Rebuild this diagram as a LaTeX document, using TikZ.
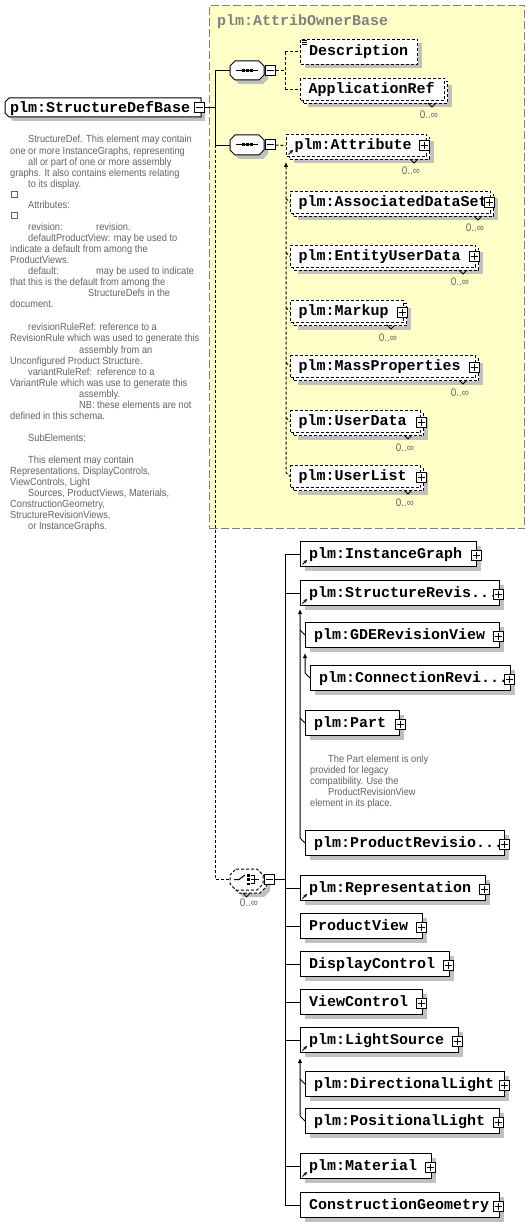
\documentclass[tikz,border=0pt]{standalone}
\usepackage{fontspec}
\usetikzlibrary{shadows,arrows.meta}
\newfontfamily\monof{Liberation Mono}
\newfontfamily\annf{Liberation Sans}[FakeStretch=0.9]
\definecolor{shadowc}{RGB}{192,192,192}
\definecolor{yell}{RGB}{255,255,200}
\definecolor{framegray}{RGB}{128,128,128}
\definecolor{anncol}{RGB}{100,100,100}
\tikzset{
  shad/.style={drop shadow={shadow xshift=4pt, shadow yshift=-4pt, fill=shadowc, opacity=1}},
  ebox/.style={draw, fill=white, line width=1pt, inner sep=0pt, anchor=north west, minimum height=25pt},
  dsh/.style={dash pattern=on 3pt off 2pt},
  etext/.style={font=\monof\bfseries\fontsize{15}{15}\selectfont, anchor=base west, inner sep=0pt},
  ann/.style={font=\annf\fontsize{10.3}{11}\selectfont, text=anncol, anchor=base west, inner sep=0pt},
  lim/.style={font=\annf\fontsize{11}{11}\selectfont, text=anncol, anchor=base, inner sep=0pt},
  pm/.style={draw, fill=white, line width=1pt, minimum size=10pt, inner sep=0pt},
  conn/.style={line width=1pt},
  dconn/.style={line width=1pt, dsh},
  inh/.style={line width=1pt, {Latex[length=5pt,width=4.5pt]}-},
}
% single element box
\newcommand\eS[6]{%
  \node[ebox,shad,#6,minimum width={#4-#2}] (#1) at (#2,#3) {};
  \node[etext] (#1t) at (#2+9,#3+17) {#5};}
% multi-occurrence (0..inf) optional element box
\newcommand\eM[5]{%
  \node[ebox,shad,dsh,minimum width={#4-#2},minimum height=22pt] (#1b) at (#2+3,#3+3) {};
  \node[ebox,dsh,minimum width={#4-#2},minimum height=22pt] (#1) at (#2,#3) {};
  \node[etext] (#1t) at (#2+8.5,#3+15.5) {#5};
  \draw[line width=0.8pt] (#4-16,#3+25) -- (#4-12,#3+29) -- (#4-8,#3+25);
  \node[lim] (#1n) at (#4-15,#3+41) {0..∞};}
\newcommand\pl[3]{%
  \node[pm] (#1) at (#2,#3) {};
  \draw[line width=1pt] (#1.center) +(-3.5,0) -- +(3.5,0) (#1.center) +(0,-3.5) -- +(0,3.5);}
\newcommand\mn[3]{%
  \node[pm] (#1) at (#2,#3) {};
  \draw[line width=1pt] (#1.center) +(-3.5,0) -- +(3.5,0);}
\newcommand\chp[5]{(#1+#5,#2) -- (#3-#5,#2) -- (#3,#2+#5) -- (#3,#4-#5) -- (#3-#5,#4) -- (#1+#5,#4) -- (#1,#4-#5) -- (#1,#2+#5) -- cycle}
\newcommand\comp[5]{%
  \fill[shadowc,shift={(4,4)}] \chp{#2}{#3}{#4}{#5}{5};
  \draw[fill=white,line width=1pt] \chp{#2}{#3}{#4}{#5}{5};
  \node[inner sep=0pt,minimum width={#4-#2},minimum height={#5-#3},anchor=north west] (#1) at (#2,#3) {};}
\newcommand\seqicon[1]{%
  \draw[line width=1pt] (236,#1) -- (258,#1);
  \fill (242,#1-1.5) rectangle ++(2.5,3);
  \fill (246,#1-1.5) rectangle ++(2.5,3);
  \fill (250,#1-1.5) rectangle ++(2.5,3);}
\newcommand\refic[1]{\draw[line width=1pt,-{Stealth[length=3.5pt,width=3.5pt]}] ([xshift=2.5pt,yshift=2.5pt]#1.south west) -- ++(4.5,-4.5);}
\newcommand\an[4]{\node[ann] (#1) at (#2,#3+4) {#4};}
\begin{document}
\begin{tikzpicture}[x=1pt,y=-1pt]
\fill[white] (0,0) rectangle (530,1222);
\useasboundingbox (0,0) rectangle (530,1222);

% ---------- group (AttribOwnerBase) ----------
\node[draw=framegray, fill=yell, line width=1pt, dash pattern=on 8pt off 3pt, inner sep=0pt,
      anchor=north west, minimum width=315pt, minimum height=523pt] (grp) at (209,5) {};
\node[etext, text=framegray] (grpt) at (217,26) {plm:AttribOwnerBase};

% ---------- root ----------
\fill[shadowc, shift={(4,4)}] (9,98) -- (201,98) -- (201,117) -- (9,117) -- (5,113) -- (5,102) -- cycle;
\draw[fill=white, line width=1pt] (9,98) -- (201,98) -- (201,117) -- (9,117) -- (5,113) -- (5,102) -- cycle;
\node[inner sep=0pt, minimum width=196pt, minimum height=19pt, anchor=north west] (root) at (5,98) {};
\node[etext] (roott) at (10,112.5) {plm:StructureDefBase};
\mn{rm}{199}{108}

% ---------- compositors ----------
\comp{seq1}{230}{61}{264}{80}
\seqicon{70.5}
\mn{seq1m}{270}{70.5}
\comp{seq2}{230}{135}{264}{155}
\seqicon{145}
\mn{seq2m}{270}{145}

% choice compositor (0..inf)
\fill[shadowc,shift={(7,7)}] \chp{230}{869}{263}{890}{6};
\draw[fill=white,dsh,line width=1pt,shift={(3,3)}] \chp{230}{869}{263}{890}{6};
\draw[fill=white,dsh,line width=1pt] \chp{230}{869}{263}{890}{6};
\node[inner sep=0pt,minimum width=33pt,minimum height=21pt,anchor=north west] (choice) at (230,869) {};
\draw[line width=1pt] (234,879.5) -- (239,879.5) -- (245,875);
\fill (247,874) rectangle ++(2.5,2.5);
\fill (247,878.3) rectangle ++(2.5,2.5);
\fill (247,882.6) rectangle ++(2.5,2.5);
\draw[line width=1pt] (250.5,875.2) -- (254,875.2) -- (254,883.8) -- (250.5,883.8) (250.5,879.5) -- (259,879.5);
\draw[line width=0.8pt] (243,893) -- (246.5,897) -- (250,893);
\node[lim] (choicen) at (249,906) {0..∞};
\mn{chm}{269.5}{879.5}

% ---------- group contents ----------
\eS{desc}{300}{39}{417}{Description}{dsh}
\draw[line width=0.7pt] (302,40.5) -- (307,40.5) (302,42.5) -- (307,42.5) (302,44.5) -- (307,44.5);
\eM{app}{300}{78}{444}{ApplicationRef}
\eM{attr}{286}{134}{426}{plm:Attribute}
\pl{attrp}{424}{146}
\refic{attr}
\eM{ads}{290}{191}{490}{plm:AssociatedDataSet}
\pl{adsp}{489}{203}
\eM{eud}{290}{245}{475}{plm:EntityUserData}
\pl{eudp}{474}{257}
\eM{mk}{290}{300}{403}{plm:Markup}
\pl{mkp}{402}{312}
\eM{mp}{290}{355}{475}{plm:MassProperties}
\pl{mpp}{474}{367}
\eM{ud}{290}{410}{420}{plm:UserData}
\pl{udp}{421}{422}
\eM{ul}{290}{465}{420}{plm:UserList}
\pl{ulp}{421}{477}

% ---------- choice contents ----------
\eS{ig}{300}{541}{476}{plm:InstanceGraph}{}
\pl{igp}{476}{555}
\refic{ig}
\eS{srv}{300}{580}{499}{plm:StructureRevis...}{}
\pl{srvp}{498}{594}
\refic{srv}
\eS{gde}{305}{622}{499}{plm:GDERevisionView}{}
\pl{gdep}{498}{636}
\eS{crv}{310}{665}{510}{plm:ConnectionRevi...}{}
\pl{crvp}{509}{679}
\eS{part}{305}{710}{399}{plm:Part}{}
\pl{partp}{400}{724}
\eS{prv}{305}{830}{504}{plm:ProductRevisio...}{}
\pl{prvp}{504}{844}
\eS{rep}{300}{875}{485}{plm:Representation}{}
\pl{repp}{484}{889}
\refic{rep}
\eS{pv}{300}{913}{422}{ProductView}{}
\pl{pvp}{421}{927}
\eS{dc}{300}{951}{449}{DisplayControl}{}
\pl{dcp}{448}{965}
\eS{vc}{300}{989}{422}{ViewControl}{}
\pl{vcp}{421}{1003}
\eS{ls}{300}{1027}{458}{plm:LightSource}{}
\pl{lsp}{457}{1041}
\refic{ls}
\eS{dl}{305}{1071}{504}{plm:DirectionalLight}{}
\pl{dlp}{504}{1085}
\eS{pl}{305}{1108}{499}{plm:PositionalLight}{}
\pl{plp}{498}{1122}
\eS{mat}{300}{1153}{431}{plm:Material}{}
\pl{matp}{430}{1167}
\refic{mat}
\eS{cg}{300}{1192}{499}{ConstructionGeometry}{}
\pl{cgp}{498}{1206}

% ---------- connectors ----------
\coordinate (trunk) at (215,0);
\coordinate (b1) at (285,0);
\coordinate (b2) at (285,0);
\draw[conn] (rm.east) -- (rm.east -| trunk);
\draw[conn] (seq1.west -| trunk) -- (seq2.west -| trunk);
\draw[conn] (seq1.west -| trunk) -- (seq1.west);
\draw[conn] (seq2.west -| trunk) -- (seq2.west);
\draw[dconn] (seq2.west -| trunk) |- (choice.west);

\draw[dconn] (seq1m.east) -- (seq1m.east -| b1);
\draw[dconn] (desc.west -| b1) -- (app.west -| b1);
\draw[dconn] (desc.west -| b1) -- (desc.west);
\draw[dconn] (app.west -| b1) -- (app.west);
\draw[dconn] (seq2m.east) -- (attr.west);

\draw[dconn,{Latex[length=5pt,width=4.5pt]}-] ([yshift=-5pt]attr.south west) -- ([xshift=-4pt,yshift=4pt]ul.west) -- (ul.west);
\foreach \n in {ads,eud,mk,mp,ud}{\draw[dconn] ([xshift=-4pt,yshift=4pt]\n.west) -- (\n.west);}

\draw[conn] (chm.east) -- (chm.east -| b2);
\draw[conn] (ig.west -| b2) -- (cg.west -| b2);
\foreach \n in {ig,srv,rep,pv,dc,vc,ls,mat,cg}{\draw[conn] (\n.west -| b2) -- (\n.west);}

\draw[inh] ([yshift=-3pt]srv.south west) -- ([xshift=-5pt,yshift=5pt]prv.west) -- (prv.west);
\foreach \n in {gde,part}{\draw[conn] ([xshift=-5pt,yshift=5pt]\n.west) -- (\n.west);}
\draw[inh] ([yshift=-5pt]gde.south west) -- ([xshift=-5pt,yshift=5pt]crv.west) -- (crv.west);
\draw[inh] ([yshift=-5pt]ls.south west) -- ([xshift=-5pt,yshift=5pt]pl.west) -- (pl.west);
\draw[conn] ([xshift=-5pt,yshift=5pt]dl.west) -- (dl.west);

% ---------- annotations ----------
\an{a1}{28}{139}{StructureDef. This element may contain}
\an{a2}{10}{151}{one or more InstanceGraphs, representing}
\an{a3}{28}{162}{all or part of one or more assembly}
\an{a4}{10}{173}{graphs. It also contains elements relating}
\an{a5}{28}{184}{to its display.}
\draw[anncol, line width=0.8pt] (11.5,191.5) rectangle (17,197);
\an{a6}{28}{205}{Attributes:}
\draw[anncol, line width=0.8pt] (11.5,212.5) rectangle (17,218);
\an{a7}{28}{227}{revision:}
\an{a7b}{96}{227}{revision.}
\an{a8}{28}{238}{defaultProductView: may be used to}
\an{a9}{10}{249}{indicate a default from among the}
\an{a10}{10}{260}{ProductViews.}
\an{a11}{28}{271}{default:}
\an{a11b}{96}{271}{may be used to indicate}
\an{a12}{10}{282}{that this is the default from among the}
\an{a13}{88}{293}{StructureDefs in the}
\an{a14}{10}{304}{document.}
\an{a15}{28}{326}{revisionRuleRef: reference to a}
\an{a16}{10}{337}{RevisionRule which was used to generate this}
\an{a17}{79}{349}{assembly from an}
\an{a18}{10}{360}{Unconfigured Product Structure.}
\an{a19}{28}{371}{variantRuleRef:\ \ reference to a}
\an{a20}{10}{382}{VariantRule which was use to generate this}
\an{a21}{79}{393}{assembly.}
\an{a22}{79}{404}{NB: these elements are not}
\an{a23}{10}{415}{defined in this schema.}
\an{a24}{28}{437}{SubElements:}
\an{a25}{28}{459}{This element may contain}
\an{a26}{10}{470}{Representations, DisplayControls,}
\an{a27}{10}{481}{ViewControls, Light}
\an{a28}{28}{492}{Sources, ProductViews, Materials,}
\an{a29}{10}{503}{ConstructionGeometry,}
\an{a30}{10}{514}{StructureRevisionViews,}
\an{a31}{28}{525}{or InstanceGraphs.}

\an{p1}{328}{758}{The Part element is only}
\an{p2}{310}{769}{provided for legacy}
\an{p3}{310}{780}{compatibility. Use the}
\an{p4}{328}{791}{ProductRevisionView}
\an{p5}{310}{802}{element in its place.}
\end{tikzpicture}
\end{document}
